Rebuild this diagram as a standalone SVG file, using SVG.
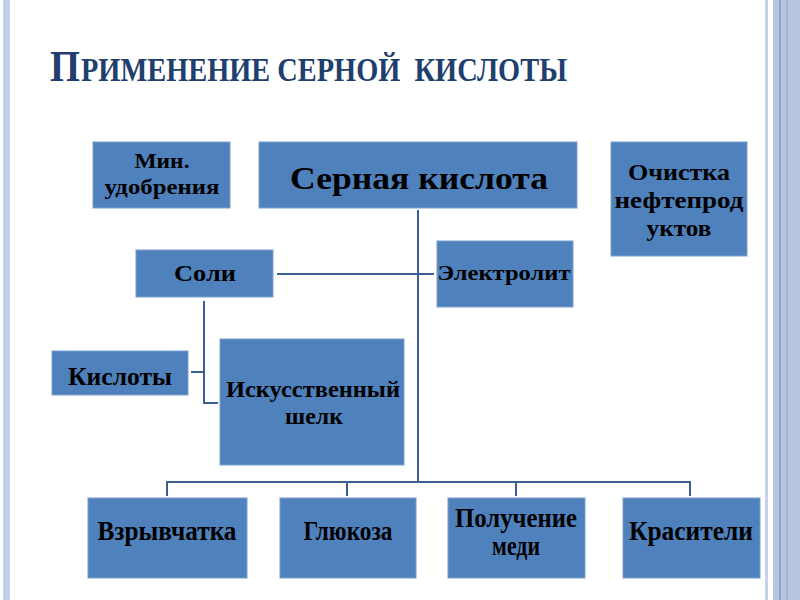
<svg xmlns="http://www.w3.org/2000/svg" width="800" height="600" viewBox="0 0 800 600">
<style>
.box{fill:#4f81bd;stroke:#7da0cc;stroke-width:1}
.lbl{font-family:"Liberation Serif","Times New Roman",serif;font-weight:bold;fill:#000;text-anchor:middle}
.conn{fill:none;stroke:#3b5f8e;stroke-width:2}
.title{font-family:"Liberation Serif","Times New Roman",serif;font-weight:bold;fill:#1f3f6e}
</style>
<rect x="0" y="0" width="800" height="600" fill="#ffffff"/>
<g id="frame">
<rect x="3" y="0" width="7" height="600" fill="#c9d5ea"/>
<line x1="5" y1="0" x2="5" y2="600" stroke="#b3c4e2" stroke-width="1"/>
<line x1="8" y1="0" x2="8" y2="600" stroke="#b3c4e2" stroke-width="1"/>
<rect x="765" y="0" width="3" height="600" fill="#c5d1e8"/>
<rect x="773" y="0" width="27" height="600" fill="#b8c5e0"/>
<rect x="779" y="0" width="2" height="600" fill="#8ea6cf"/>
<rect x="786" y="0" width="2" height="600" fill="#9fb3d8"/>
</g>
<text class="title" x="50" y="81" font-size="44" textLength="30" lengthAdjust="spacingAndGlyphs">П</text>
<text class="title" x="81" y="81" font-size="33" textLength="486" lengthAdjust="spacingAndGlyphs" xml:space="preserve">РИМЕНЕНИЕ СЕРНОЙ  КИСЛОТЫ</text>
<g id="connectors">
<line class="conn" x1="418" y1="210" x2="418" y2="483"/>
<line class="conn" x1="277" y1="274" x2="434" y2="274"/>
<polyline class="conn" points="204,301 204,403 218,403"/>
<line class="conn" x1="191" y1="372" x2="204" y2="372"/>
<polyline class="conn" points="167,496 167,482 690,482 690,496"/>
<line class="conn" x1="347" y1="482" x2="347" y2="496"/>
<line class="conn" x1="516" y1="482" x2="516" y2="496"/>
</g>
<g id="min">
<rect class="box" x="93" y="142" width="137" height="66"/>
<text class="lbl" font-size="20" x="162" y="168" textLength="55" lengthAdjust="spacingAndGlyphs">Мин.</text>
<text class="lbl" font-size="20" x="162" y="194" textLength="115" lengthAdjust="spacingAndGlyphs">удобрения</text>
</g>
<g id="sernaya">
<rect class="box" x="259" y="142" width="318" height="66"/>
<text class="lbl" font-size="32" x="419" y="189" textLength="258" lengthAdjust="spacingAndGlyphs">Серная кислота</text>
</g>
<g id="ochistka">
<rect class="box" x="611" y="142" width="136" height="114"/>
<text class="lbl" font-size="23" x="679" y="180" textLength="102" lengthAdjust="spacingAndGlyphs">Очистка</text>
<text class="lbl" font-size="23" x="679" y="208" textLength="129" lengthAdjust="spacingAndGlyphs">нефтепрод</text>
<text class="lbl" font-size="23" x="679" y="236" textLength="65" lengthAdjust="spacingAndGlyphs">уктов</text>
</g>
<g id="soli">
<rect class="box" x="136" y="250" width="137" height="47"/>
<text class="lbl" font-size="23" x="205" y="281" textLength="62" lengthAdjust="spacingAndGlyphs">Соли</text>
</g>
<g id="elektrolit">
<rect class="box" x="437" y="241" width="136" height="66"/>
<text class="lbl" font-size="20" x="504" y="280" textLength="133" lengthAdjust="spacingAndGlyphs">Электролит</text>
</g>
<g id="kisloty">
<rect class="box" x="52" y="351" width="136" height="44"/>
<text class="lbl" font-size="25" x="120" y="385" textLength="104" lengthAdjust="spacingAndGlyphs">Кислоты</text>
</g>
<g id="shelk">
<rect class="box" x="220" y="339" width="184" height="126"/>
<text class="lbl" font-size="23" x="313" y="397" textLength="174" lengthAdjust="spacingAndGlyphs">Искусственный</text>
<text class="lbl" font-size="23" x="314" y="424" textLength="58" lengthAdjust="spacingAndGlyphs">шелк</text>
</g>
<g id="vzryv">
<rect class="box" x="88" y="498" width="159" height="80"/>
<text class="lbl" font-size="28" x="167" y="540" textLength="139" lengthAdjust="spacingAndGlyphs">Взрывчатка</text>
</g>
<g id="glyukoza">
<rect class="box" x="280" y="498" width="136" height="80"/>
<text class="lbl" font-size="28" x="348" y="540" textLength="89" lengthAdjust="spacingAndGlyphs">Глюкоза</text>
</g>
<g id="med">
<rect class="box" x="448" y="498" width="137" height="80"/>
<text class="lbl" font-size="28" x="516" y="527" textLength="122" lengthAdjust="spacingAndGlyphs">Получение</text>
<text class="lbl" font-size="28" x="516" y="555" textLength="48" lengthAdjust="spacingAndGlyphs">меди</text>
</g>
<g id="krasiteli">
<rect class="box" x="623" y="498" width="137" height="80"/>
<text class="lbl" font-size="28" x="691" y="540" textLength="124" lengthAdjust="spacingAndGlyphs">Красители</text>
</g>
</svg>
